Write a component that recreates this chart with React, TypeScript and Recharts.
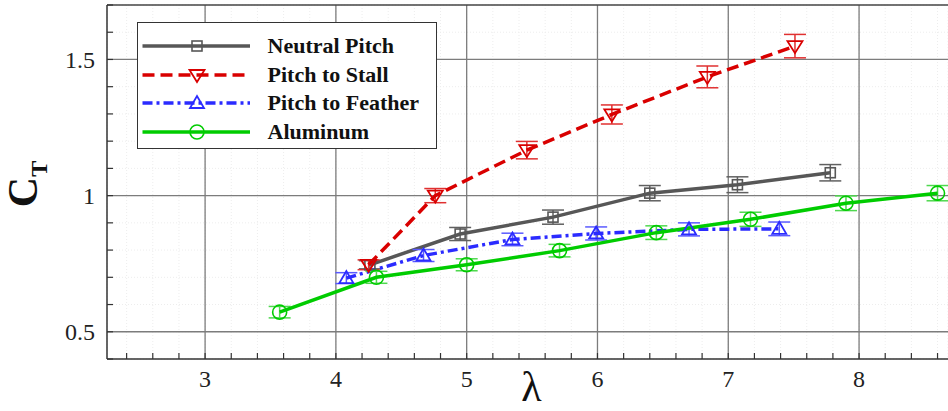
import React from 'react'
import { ComposedChart, Line, XAxis, YAxis, CartesianGrid, ReferenceLine, ErrorBar, Legend } from 'recharts'

// values (lambda, C_T, error half-height)
const neutralLambda = [4.26, 4.95, 5.66, 6.40, 7.07, 7.78]
const neutralCt = [0.746, 0.859, 0.921, 1.009, 1.040, 1.084]
const neutralErr = [0.015, 0.024, 0.026, 0.028, 0.029, 0.030]

const stallLambda = [4.25, 4.76, 5.46, 6.11, 6.84, 7.51]
const stallCt = [0.746, 1.0, 1.167, 1.298, 1.436, 1.549]
const stallErr = [0.018, 0.026, 0.032, 0.035, 0.040, 0.043]

const featherLambda = [4.08, 4.67, 5.35, 5.99, 6.70, 7.39]
const featherCt = [0.697, 0.780, 0.839, 0.861, 0.876, 0.878]
const featherErr = [0.020, 0.022, 0.023, 0.024, 0.024, 0.025]

const aluLambda = [3.57, 4.31, 5.0, 5.71, 6.45, 7.17, 7.90, 8.60]
const aluCt = [0.572, 0.700, 0.746, 0.798, 0.864, 0.913, 0.972, 1.009]
const aluErr = [0.021, 0.022, 0.022, 0.023, 0.025, 0.026, 0.027, 0.028]

const xTicks = [2.4, 2.6, 2.8, 3, 3.2, 3.4, 3.6, 3.8, 4, 4.2, 4.4, 4.6, 4.8, 5, 5.2, 5.4, 5.6, 5.8, 6, 6.2, 6.4, 6.6, 6.8, 7, 7.2, 7.4, 7.6, 7.8, 8, 8.2, 8.4, 8.6]
const xLabels = [3, 4, 5, 6, 7, 8]
const yTicks = [0.4, 0.5, 0.6, 0.7, 0.8, 0.9, 1, 1.1, 1.2, 1.3, 1.4, 1.5, 1.6, 1.7]
const yLabels = [0.5, 1, 1.5]

const toPoints = (xs: number[], ys: number[], es: number[]) =>
  xs.map((x, i) => ({ x, y: ys[i], e: es[i] }))

type Shape = 'square' | 'down' | 'up' | 'circle'

interface SeriesDef {
  name: string
  color: string
  errColor: string
  shape: Shape
  dash?: string
  data: { x: number; y: number; e: number }[]
}

const series: SeriesDef[] = [
  { name: 'Neutral Pitch', color: '#575757', errColor: '#606060', shape: 'square', data: toPoints(neutralLambda, neutralCt, neutralErr) },
  { name: 'Pitch to Stall', color: '#d90000', errColor: '#e03030', shape: 'down', dash: '12 6', data: toPoints(stallLambda, stallCt, stallErr) },
  { name: 'Pitch to Feather', color: '#2b2bff', errColor: '#5a5aff', shape: 'up', dash: '10 4 3 4', data: toPoints(featherLambda, featherCt, featherErr) },
  { name: 'Aluminum', color: '#00cc00', errColor: '#4fd84f', shape: 'circle', data: toPoints(aluLambda, aluCt, aluErr) },
]

const SERIF = 'Liberation Serif, DejaVu Serif, Noto Serif, serif'

function Marker({ cx, cy, shape, color }: { cx: number; cy: number; shape: Shape; color: string }) {
  if (cx == null || cy == null) return null
  if (shape === 'square') {
    return <rect x={cx - 5} y={cy - 5} width={10} height={10} fill="none" stroke={color} strokeWidth={1.6} />
  }
  if (shape === 'down') {
    return <path d={`M${cx - 7.5},${cy - 5} L${cx + 7.5},${cy - 5} L${cx},${cy + 7} Z`} fill="none" stroke={color} strokeWidth={1.8} />
  }
  if (shape === 'up') {
    return <path d={`M${cx - 7},${cy + 5} L${cx + 7},${cy + 5} L${cx},${cy - 7} Z`} fill="none" stroke={color} strokeWidth={1.8} />
  }
  return <circle cx={cx} cy={cy} r={7} fill="none" stroke={color} strokeWidth={1.6} />
}

const XTick = (props: any) => {
  const { x, y, payload } = props
  const major = xLabels.includes(payload.value)
  return (
    <g>
      <line x1={x} x2={x} y1={y} y2={y - 6} stroke="#333" strokeWidth={1.2} />
      {major && (
        <text x={x} y={y + 28} textAnchor="middle" style={{ fontFamily: SERIF }} fontSize={24} fill="#222">
          {payload.value}
        </text>
      )}
    </g>
  )
}

const YTick = (props: any) => {
  const { x, y, payload } = props
  const major = yLabels.includes(payload.value)
  return (
    <g>
      <line x1={x} x2={x + 6} y1={y} y2={y} stroke="#333" strokeWidth={1.2} />
      {major && (
        <text x={x - 12} y={y + 8.5} textAnchor="end" style={{ fontFamily: SERIF }} fontSize={24} fill="#222">
          {payload.value}
        </text>
      )}
    </g>
  )
}

const LegendBox = () => (
  <div
    style={{
      boxSizing: 'border-box',
      width: 300,
      height: 127,
      border: '1.5px solid #333',
      background: '#fff',
      paddingTop: 9,
    }}
  >
    {series.map(s => (
      <div key={s.name} style={{ display: 'flex', alignItems: 'center', height: 28.5 }}>
        <svg width={120} height={28} style={{ display: 'block' }}>
          <line x1={4.5} x2={112} y1={14} y2={14} stroke={s.color} strokeWidth={3.5} strokeDasharray={s.dash} />
          <Marker cx={59} cy={14} shape={s.shape} color={s.color} />
        </svg>
        <span style={{ marginLeft: 9.5, fontFamily: SERIF, fontWeight: 'bold', fontSize: 22, color: '#111', lineHeight: '28px', whiteSpace: 'nowrap' }}>
          {s.name}
        </span>
      </div>
    ))}
  </div>
)

export default function App() {
  return (
    <div style={{ position: 'absolute', left: 0, top: 0, background: '#fff', fontFamily: SERIF }}>
      <ComposedChart width={948} height={411} margin={{ top: 5, right: 0, bottom: 0, left: 0 }}>
        <CartesianGrid stroke="#ededed" strokeDasharray="1 2" />
        <CartesianGrid stroke="#7c7c7c" strokeWidth={1.3} horizontalValues={yLabels} verticalValues={xLabels} />
        <XAxis
          type="number"
          dataKey="x"
          domain={[2.25, 8.68]}
          ticks={xTicks}
          interval={0}
          allowDataOverflow
          height={52}
          tickSize={0}
          tickMargin={0}
          tickLine={false}
          axisLine={{ stroke: '#333', strokeWidth: 1.5 }}
          tick={<XTick />}
          label={(p: any) => (
            <text
              x={p.viewBox.x + p.viewBox.width / 2 + 4}
              y={p.viewBox.y + 42}
              textAnchor="middle"
              style={{ fontFamily: SERIF }}
              fontSize={42}
              fill="#111"
            >
              λ
            </text>
          )}
        />
        <YAxis
          type="number"
          dataKey="y"
          domain={[0.4, 1.7]}
          ticks={yTicks}
          interval={0}
          allowDataOverflow
          width={107}
          tickSize={0}
          tickMargin={0}
          tickLine={false}
          axisLine={{ stroke: '#333', strokeWidth: 1.5 }}
          tick={<YTick />}
          label={(p: any) => (
            <text
              transform={`translate(37, ${p.viewBox.y + p.viewBox.height / 2 + 2}) rotate(-90)`}
              textAnchor="middle"
              style={{ fontFamily: SERIF }}
              fontWeight="bold"
              fontSize={42}
              fill="#111"
            >
              C<tspan fontSize={24} dy={10}>T</tspan>
            </text>
          )}
        />
        <ReferenceLine y={1.7} stroke="#444" strokeWidth={1.5} />
        {series.map(s => (
          <Line
            key={s.name}
            data={s.data}
            dataKey="y"
            name={s.name}
            type="linear"
            stroke={s.color}
            strokeWidth={3.5}
            strokeDasharray={s.dash}
            isAnimationActive={false}
            dot={(p: any) => <Marker key={p.index} cx={p.cx} cy={p.cy} shape={s.shape} color={s.color} />}
            activeDot={false}
          >
            <ErrorBar dataKey="e" direction="y" width={11} stroke={s.errColor} strokeWidth={1.5} isAnimationActive={false} />
          </Line>
        ))}
        <Legend
          layout="vertical"
          align="center"
          verticalAlign="middle"
          wrapperStyle={{ left: 137, top: 22, width: 300, height: 127 }}
          content={() => <LegendBox />}
        />
      </ComposedChart>
    </div>
  )
}
